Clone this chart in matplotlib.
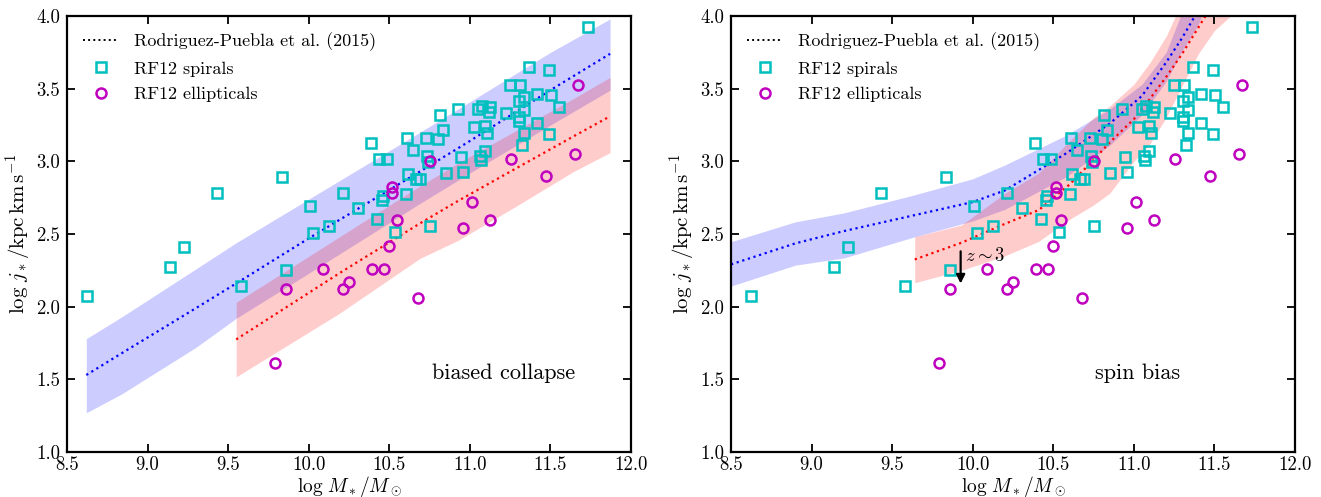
import numpy as np
import matplotlib
matplotlib.use("Agg")
import matplotlib.pyplot as plt

plt.rcParams['font.family'] = 'serif'
plt.rcParams['font.serif'] = ['cmr10']
plt.rcParams['mathtext.fontset'] = 'cm'
plt.rcParams['axes.unicode_minus'] = False
plt.rcParams['axes.formatter.use_mathtext'] = True

# ---------------- data ----------------
spiral_logM = [8.622, 9.14, 9.227, 9.43, 9.579, 9.837, 9.86, 10.007, 10.027, 10.126,
               10.215, 10.306, 10.387, 10.426, 10.436, 10.455, 10.463, 10.488, 10.538, 10.606,
               10.608, 10.614, 10.647, 10.668, 10.688, 10.726, 10.736, 10.74, 10.755, 10.804,
               10.817, 10.833, 10.854, 10.924, 10.947, 10.955, 11.023, 11.052, 11.065, 11.069,
               11.077, 11.093, 11.096, 11.104, 11.116, 11.127, 11.226, 11.251, 11.302, 11.302,
               11.307, 11.313, 11.323, 11.335, 11.335, 11.335, 11.364, 11.414, 11.414, 11.493,
               11.493, 11.501, 11.552, 11.732]
spiral_logj = [2.075, 2.275, 2.412, 2.784, 2.144, 2.894, 2.254, 2.694, 2.504, 2.555,
               2.784, 2.677, 3.128, 2.600, 3.014, 2.734, 2.761, 3.014, 2.516, 2.777,
               3.160, 2.913, 3.080, 2.878, 2.876, 3.162, 3.039, 2.993, 2.555, 3.156,
               3.319, 3.213, 2.920, 3.358, 3.028, 2.928, 3.236, 3.360, 3.034, 3.007,
               3.378, 3.243, 3.071, 3.197, 3.337, 3.374, 3.332, 3.523, 3.417, 3.303,
               3.279, 3.525, 3.114, 3.445, 3.351, 3.197, 3.649, 3.461, 3.266, 3.631,
               3.190, 3.459, 3.374, 3.922]

ell_logM = [9.79, 9.86, 10.087, 10.215, 10.248, 10.395, 10.465, 10.496, 10.515, 10.515,
            10.548, 10.676, 10.753, 10.955, 11.013, 11.124, 11.255, 11.474, 11.654, 11.672]
ell_logj = [1.612, 2.119, 2.257, 2.119, 2.171, 2.257, 2.257, 2.419, 2.784, 2.821,
            2.596, 2.059, 3.000, 2.539, 2.722, 2.596, 3.014, 2.897, 3.048, 3.525]

# biased collapse model (left panel)
bc_blue_M = [8.62, 8.84, 9.30, 9.55, 10.0, 10.69, 11.0, 11.5, 11.87]
bc_blue_hi = [1.78, 1.93, 2.26, 2.44, 2.74, 3.20, 3.41, 3.75, 3.98]
bc_blue_mid = [1.53, 1.68, 1.99, 2.16, 2.47, 2.93, 3.14, 3.49, 3.74]
bc_blue_lo = [1.27, 1.40, 1.72, 1.92, 2.23, 2.71, 2.92, 3.25, 3.49]

bc_red_M = [9.55, 10.19, 10.69, 10.93, 11.3, 11.64, 11.87]
bc_red_hi = [2.03, 2.48, 2.83, 2.99, 3.22, 3.43, 3.578]
bc_red_mid = [1.775, 2.23, 2.573, 2.73, 2.96, 3.17, 3.31]
bc_red_lo = [1.517, 1.954, 2.332, 2.458, 2.70, 2.928, 3.06]

# spin bias model (right panel)
sb_blue_M = [8.5, 8.9, 9.2, 9.64, 10.0, 10.2, 10.58, 10.85, 11.05, 11.2, 11.3, 11.4, 11.5]
sb_blue_hi = [2.447, 2.584, 2.645, 2.77, 2.88, 2.975, 3.18, 3.36, 3.53, 3.75, 4.03, 4.35, 4.7]
sb_blue_mid = [2.291, 2.436, 2.52, 2.63, 2.72, 2.80, 3.055, 3.26, 3.45, 3.68, 3.85, 4.04, 4.3]
sb_blue_lo = [2.142, 2.286, 2.335, 2.481, 2.59, 2.67, 2.894, 3.11, 3.32, 3.55, 3.76, 3.94, 4.25]

sb_red_M = [9.64, 9.93, 10.2, 10.41, 10.6, 10.75, 10.85, 11.0, 11.1, 11.2, 11.3, 11.4, 11.5, 11.6, 11.7]
sb_red_hi = [2.481, 2.562, 2.78, 2.92, 3.14, 3.30, 3.38, 3.53, 3.68, 3.86, 4.1, 4.35, 4.6, 4.85, 5.1]
sb_red_mid = [2.325, 2.44, 2.57, 2.665, 2.84, 3.01, 3.13, 3.29, 3.43, 3.58, 3.74, 3.92, 4.1, 4.3, 4.5]
sb_red_lo = [2.165, 2.25, 2.35, 2.45, 2.60, 2.70, 2.78, 3.0, 3.12, 3.30, 3.52, 3.74, 3.90, 4.0, 4.1]

arrow_M = 9.925
arrow_top, arrow_bottom = 2.40, 2.14

xticks = [8.5, 9.0, 9.5, 10.0, 10.5, 11.0, 11.5, 12.0]
yticks = [1.0, 1.5, 2.0, 2.5, 3.0, 3.5, 4.0]

# ---------------- figure ----------------
fig = plt.figure(figsize=(13.21, 4.97), dpi=100)
axL = fig.add_axes([0.0507, 0.0905, 0.4270, 0.8773])
axR = fig.add_axes([0.5534, 0.0905, 0.4269, 0.8773])

FS = 13.5

def draw_panel(ax, bM, bhi, bmid, blo, rM, rhi, rmid, rlo, label, label_x):
    ax.fill_between(bM, blo, bhi, color='blue', alpha=0.2, lw=0)
    ax.fill_between(rM, rlo, rhi, color='red', alpha=0.2, lw=0)
    ax.plot(bM, bmid, color='blue', ls=':', lw=1.6)
    ax.plot(rM, rmid, color='red', ls=':', lw=1.6)
    ax.plot([], [], color='black', ls=':', lw=1.4, label='Rodriguez-Puebla et al. (2015)')
    ax.plot(spiral_logM, spiral_logj, ls='none', marker='s', ms=7.8, mfc='none',
            mec='c', mew=1.8, label='RF12 spirals')
    ax.plot(ell_logM, ell_logj, ls='none', marker='o', ms=7.2, mfc='none',
            mec='m', mew=1.8, label='RF12 ellipticals')
    ax.set_xlim(8.5, 12.0)
    ax.set_ylim(1.0, 4.0)
    ax.set_xticks(xticks)
    ax.set_yticks(yticks)
    ax.set_xticklabels(['%.1f' % t for t in xticks])
    ax.set_yticklabels(['%.1f' % t for t in yticks])
    ax.tick_params(direction='in', top=True, right=True, length=6, width=1.3,
                   labelsize=FS, pad=5)
    ax.tick_params(axis='x', pad=3)
    for s in ax.spines.values():
        s.set_linewidth(1.6)
    ax.set_xlabel(r'$\log\,M_*/M_\odot$', fontsize=FS + 0.5, labelpad=0)
    ax.set_ylabel(r'$\log\,j_*/\mathrm{kpc\,km\,s^{-1}}$', fontsize=FS + 1.5, labelpad=2)
    ax.text(label_x, 1.54, label, fontsize=FS + 2.5, ha='center', va='center')
    ax.legend(loc='upper left', frameon=False, fontsize=FS - 0.5, handlelength=2.0,
              labelspacing=0.55, handletextpad=0.8, borderaxespad=0.5)

draw_panel(axL, bc_blue_M, bc_blue_hi, bc_blue_mid, bc_blue_lo,
           bc_red_M, bc_red_hi, bc_red_mid, bc_red_lo, 'biased collapse', 11.21)
draw_panel(axR, sb_blue_M, sb_blue_hi, sb_blue_mid, sb_blue_lo,
           sb_red_M, sb_red_hi, sb_red_mid, sb_red_lo, 'spin bias', 11.02)

axR.annotate('', xy=(arrow_M, arrow_bottom), xytext=(arrow_M, arrow_top),
             arrowprops=dict(arrowstyle='-|>', color='black', lw=1.6, mutation_scale=13))
axR.text(arrow_M + 0.03, 2.35, r'$z\sim3$', fontsize=FS, ha='left', va='center')

fig.savefig('out.png', dpi=100)
